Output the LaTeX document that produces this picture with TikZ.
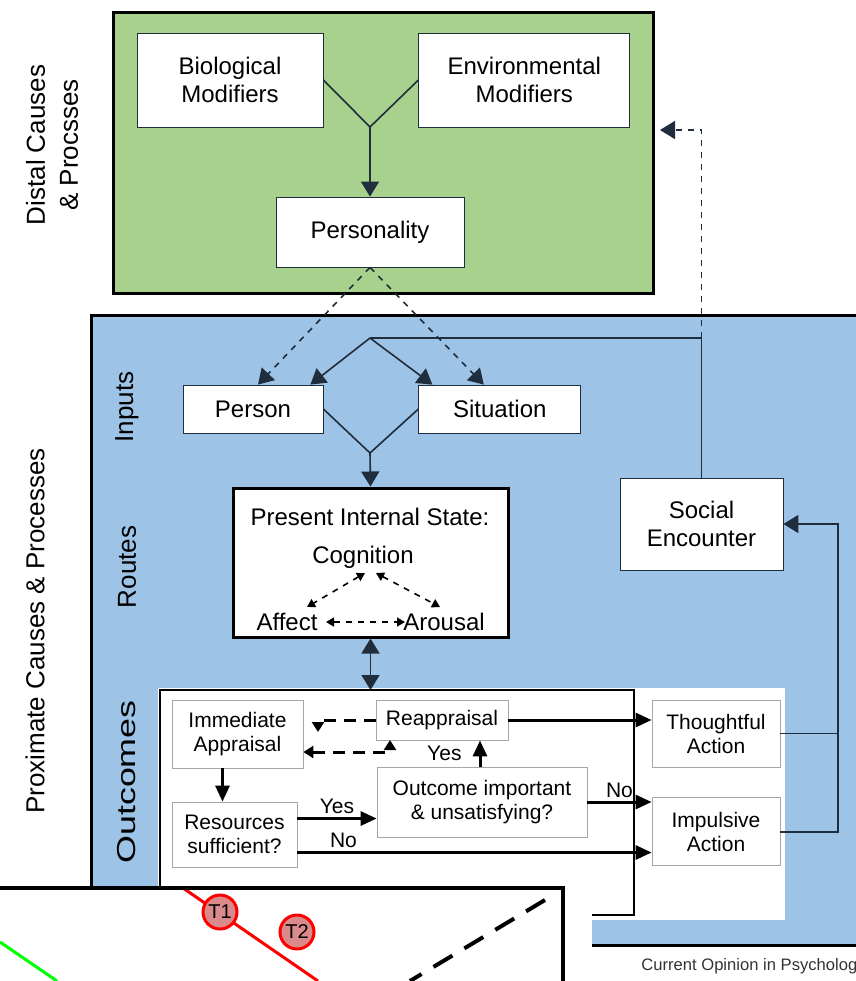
\documentclass[tikz,border=0pt]{standalone}
\usepackage{fontspec}
\setmainfont{Liberation Sans}
\usepackage{tikz}
\usetikzlibrary{arrows.meta,positioning,calc}
\definecolor{distal}{HTML}{A9D18E}
\definecolor{proximate}{HTML}{9DC3E6}
\definecolor{wirec}{HTML}{1F2D3D}
\definecolor{tfill}{HTML}{DA8A8A}
\definecolor{gline}{HTML}{00FF00}
\tikzset{box/.style={draw=wirec, fill=white, align=center, inner sep=0pt, font=\fontsize{12}{14}\selectfont},
	obox/.style={draw=gray!70, fill=white, align=center, inner sep=0pt, font=\fontsize{10.5}{12}\selectfont},
	txt/.style={inner sep=0pt, font=\fontsize{12}{14}\selectfont},
	side/.style={rotate=90, align=center, inner sep=0pt, font=\fontsize{13}{16.5}\selectfont},
	lbl/.style={inner sep=1.5pt, font=\fontsize{10.5}{12}\selectfont},
	ln/.style={draw=wirec, line width=0.8pt},
	arr/.style={-{Triangle[length=7.5pt,width=9pt]}},
	oarr/.style={line width=1.5pt, -{Triangle[length=8pt,width=7pt]}},
	dpair/.style={dashed, line width=0.8pt, {Triangle[length=4pt,width=4.5pt]}-{Triangle[length=4pt,width=4.5pt]}},
	dloop/.style={line width=1.5pt, dash pattern=on 6pt off 4pt},
	tcirc/.style={circle, draw=red, fill=tfill, line width=1.5pt, inner sep=0pt, minimum size=17pt, font=\fontsize{10}{10}\selectfont}}

\begin{document}
\begin{tikzpicture}[x=0.5pt, y=-0.5pt]
	\useasboundingbox (0,0) rectangle (856,981);
	\draw[fill=distal, line width=1.5pt] (113,12) rectangle (653,293);
	\draw[fill=proximate, line width=1.5pt] (91,315) rectangle (880,945);
	\fill[white] (158,688) rectangle (785,920);
	\draw[line width=1.2pt] (160,690) rectangle (634,915);
	%
	\node (dist) 	[side] at (52,145) 		{Distal Causes\\\& Procsses};
	\node (prox) 	[side] at (35,631) 		{Proximate Causes \& Processes};
	\node (inp) 	[side] at (127,407) 	{Inputs};
	\node (rte) 	[side] at (127,567) 	{Routes};
	\node (outc) 	[side] at (127,782) 	{\scalebox{1.38}[1]{Outcomes}};
	%
	\node (A) 	[box, minimum width=93pt, minimum height=47pt] at (230,80) 		{Biological\\Modifiers};
	\node (B) 	[box, minimum width=105.5pt, minimum height=47pt, right=47.5pt of A] 	{Environmental\\Modifiers};
	\node (C) 	[box, minimum width=94pt, minimum height=35pt] at (370,232) 		{Personality};
	\node (D) 	[box, minimum width=70pt, minimum height=24pt] at (253,409) 		{Person};
	\node (E) 	[box, minimum width=81pt, minimum height=24pt, right=47.5pt of D] 	{Situation};
	\node (F) 	[box, draw=black, line width=1.5pt, minimum width=137.5pt, minimum height=74.5pt] at (370.5,562.5) {};
	\node (G) 	[box, minimum width=81.5pt, minimum height=46pt] at (701.5,524) 	{Social\\Encounter};
	\node (F0) 	[txt] at (370,517) 	{Present Internal State:};
	\node (N) 	[txt] at (363,557) 	{Cognition};
	\node (O) 	[txt] at (287,622) 	{Affect};
	\node (P) 	[txt] at (444,622) 	{Arousal};
	%
	\node (H) 	[obox, minimum width=65.5pt, minimum height=34pt] at (237.5,734) 	{Immediate\\Appraisal};
	\node (I) 	[obox, minimum width=62.5pt, minimum height=32.5pt] at (234.5,834.5) 	{Resources\\sufficient?};
	\node (J) 	[obox, minimum width=66pt, minimum height=20pt] at (442,720) 		{Reappraisal};
	\node (K) 	[obox, minimum width=105pt, minimum height=35pt] at (482,802) 		{Outcome important\\\& unsatisfying?};
	\node (L) 	[obox, minimum width=64pt, minimum height=33.5pt] at (716,733.5) 	{Thoughtful\\Action};
	\node (M) 	[obox, minimum width=64pt, minimum height=34pt, below=15pt of L] 	{Impulsive\\Action};
	%
	\coordinate (y1) at (370,127);
	\coordinate (y2) at (370,338);
	\coordinate (y3) at (370,453);
	\coordinate (W) at (370.5,690);
	\coordinate (r) at (838,0);
	\draw[ln] 				(A.east) -- (y1) -- (B.west);
	\draw[ln, arr] 			(y1) -- (C.north);
	\draw[ln, dashed, arr] 	(C.south) -- ($(D.north)+(5,0)$);
	\draw[ln, dashed, arr] 	(C.south) -- ($(E.north)+(-16,0)$);
	\draw[ln] 				(G.north) |- (y2);
	\draw[ln, arr] 			(y2) -- ($(D.north east)+(-13,0)$);
	\draw[ln, arr] 			(y2) -- ($(E.north west)+(14,0)$);
	\draw[ln, dashed, arr] 	(G.north |- y2) |- (660,130);
	\draw[ln] 				(D.east) -- (y3) -- (E.west);
	\draw[ln, arr] 			(y3) -- (F.north);
	\draw[ln, {Triangle[length=7.5pt,width=9pt]}-{Triangle[length=7.5pt,width=9pt]}] (F.south) -- (W);
	\draw[dpair] 			($(N)+(2,16)$) -- ($(O)+(20,-15)$);
	\draw[dpair] 			($(N)+(13,16)$) -- ($(P)+(-4,-15)$);
	\draw[dpair] 			($(O)+(39,0)$) -- ($(P)+(-39,0)$);
	%
	\draw[oarr] 	([xshift=-7.5pt]H.south) -- ([xshift=-7.5pt]H.south |- I.north);
	\draw[oarr] 	([yshift=8pt]I.east) -- node[above, lbl] {Yes} ([yshift=8pt]I.east -| K.west);
	\draw[oarr] 	([yshift=-9pt]I.east) -- node[above, lbl, pos=0.13] {No} ([yshift=-9pt]I.east -| M.west);
	\draw[oarr] 	(K.east) -- node[above, lbl] {No} (K.east -| M.west);
	\draw[oarr] 	([xshift=19pt]J.south |- K.north) -- node[left=7pt, lbl] {Yes} ([xshift=19pt]J.south);
	\draw[oarr] 	(J.east) -- (J.east -| L.west);
	\draw[dloop, -{Triangle[length=5pt,width=6pt]}] (J.west) -| (318,732);
	\draw[dloop, {Triangle[length=5pt,width=6pt]}-{Triangle[length=5pt,width=6pt]}] (H.east |- 0,752) -| (390,740);
	\draw[ln] 		(L.east) -- (L.east -| r);
	\draw[ln, arr] 	(M.east) -| (r |- G.east) -- (G.east);
	%
	\fill[white] (0,886) rectangle (592,981);
	\draw[gline, line width=1.5pt] (0,942) -- (57,981);
	\draw[red, line width=1.5pt] (183,888) -- (318,981);
	\draw[line width=2pt, dash pattern=on 11pt off 7pt] (545,900) -- (410,981);
	\draw[line width=2pt] (0,888) -- (563,888) -- (563,981);
	\node (T1) 	[tcirc] at (220,912) 	{T1};
	\node (T2) 	[tcirc] at (297,932) 	{T2};
	\node (src) [anchor=base west, inner sep=0pt, font=\fontsize{8.3}{10}\selectfont, text=black!80] at (641,970) {Current Opinion in Psycholog};
\end{tikzpicture}
\end{document}
